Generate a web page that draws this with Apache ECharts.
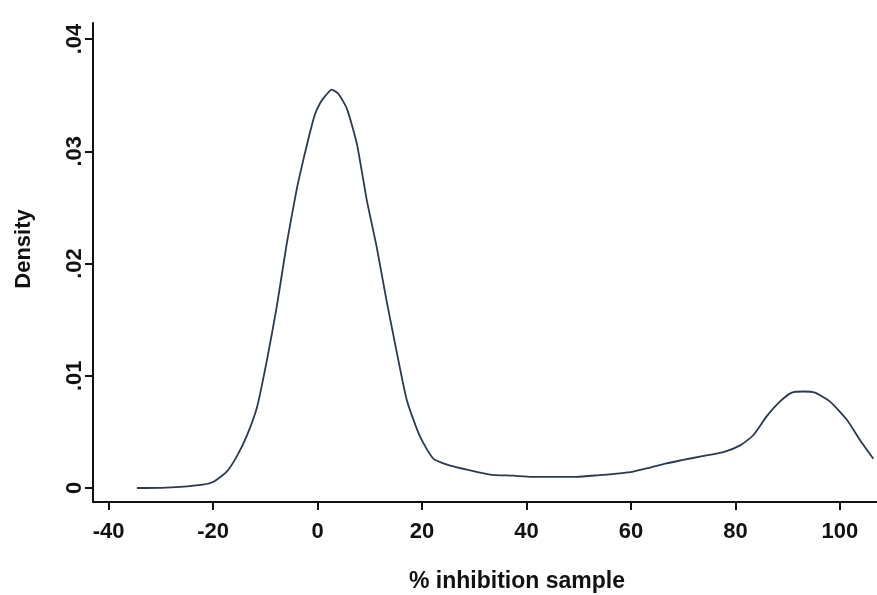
<!DOCTYPE html>
<html>
<head>
<meta charset="utf-8">
<script src="https://cdn.jsdelivr.net/npm/echarts@6/dist/echarts.min.js"></script>
<style>
html,body{margin:0;padding:0;background:#fff;}
#c{width:877px;height:595px;}
</style>
</head>
<body>
<div id="c"></div>
<script>
var xValues = [-34.6, -30, -26.3, -22, -19.9, -17.4, -15.5, -13.6, -11.6, -9.7, -7.8, -5.9, -4.0, -2.7, -1.5, -0.5, 0.5, 1.6, 2.7, 4.0, 5.6, 7.5, 9.4, 11.3, 13.2, 15.2, 17.1, 19.6, 22.2, 25.4, 29, 33, 37.5, 41, 45, 49.5, 54, 57.9, 60.4, 63.5, 66.8, 70, 73.2, 77.7, 80.9, 83.4, 86, 88.5, 90.8, 93, 95.2, 98.1, 101.3, 103.8, 106.4];
var densityValues = [0, 0.00002, 0.0001, 0.0003, 0.00056, 0.00145, 0.0028, 0.0046, 0.0072, 0.0114, 0.0162, 0.0218, 0.0266, 0.0293, 0.0316, 0.0333, 0.0343, 0.0350, 0.0355, 0.0351, 0.0338, 0.0307, 0.0257, 0.0215, 0.0167, 0.0120, 0.0078, 0.0046, 0.0026, 0.0020, 0.0016, 0.0012, 0.0011, 0.0010, 0.0010, 0.0010, 0.00115, 0.0013, 0.00145, 0.0018, 0.0022, 0.0025, 0.0028, 0.0032, 0.0038, 0.0047, 0.0064, 0.0077, 0.0085, 0.0086, 0.0085, 0.0077, 0.0061, 0.0043, 0.0026];
var xTicks = [-40, -20, 0, 20, 40, 60, 80, 100];
var yTicks = [0, 0.01, 0.02, 0.03, 0.04];
var xTitle = '% inhibition sample';
var yTitle = 'Density';

var pts = xValues.map(function (x, i) { return [x, densityValues[i]]; });
var font = 'Liberation Sans';
var chart = echarts.init(document.getElementById('c'), null, {renderer: 'canvas'});
chart.setOption({
  animation: false,
  backgroundColor: '#fff',
  grid: {left: 93, right: 0, top: 23, bottom: 93, containLabel: false},
  xAxis: {
    type: 'value', min: -43, max: 107.1,
    axisLine: {show: true, onZero: false, lineStyle: {color: '#111', width: 2}},
    axisTick: {show: true, length: 8, customValues: xTicks, lineStyle: {color: '#111', width: 2}},
    axisLabel: {customValues: xTicks, margin: 19, color: '#111', fontFamily: font, fontWeight: 'bold', fontSize: 22,
      formatter: function (v) { return v < 0 ? '-' + Math.abs(v) : String(v); }},
    splitLine: {show: false}
  },
  yAxis: {
    type: 'value', min: -0.001247, max: 0.04143,
    axisLine: {show: true, onZero: false, lineStyle: {color: '#111', width: 2}},
    axisTick: {show: true, length: 8, customValues: yTicks, lineStyle: {color: '#111', width: 2}},
    axisLabel: {customValues: yTicks, rotate: 90, margin: 7, color: '#111', fontFamily: font, fontWeight: 'bold', fontSize: 22,
      formatter: function (v) { return v === 0 ? '0' : String(v).replace(/^0/, ''); }},
    splitLine: {show: false}
  },
  graphic: [
    {type: 'text', x: 517, y: 582, style: {text: xTitle, fill: '#111', font: 'bold 23px "Liberation Sans"', textAlign: 'center', textVerticalAlign: 'middle'}},
    {type: 'text', x: 24, y: 249, rotation: Math.PI / 2, style: {text: yTitle, fill: '#111', font: 'bold 22px "Liberation Sans"', textAlign: 'center', textVerticalAlign: 'middle'}}
  ],
  series: [{
    type: 'line', data: pts, showSymbol: false, smooth: 0.2,
    lineStyle: {color: '#2b3a4c', width: 1.8}
  }]
});
</script>
</body>
</html>
